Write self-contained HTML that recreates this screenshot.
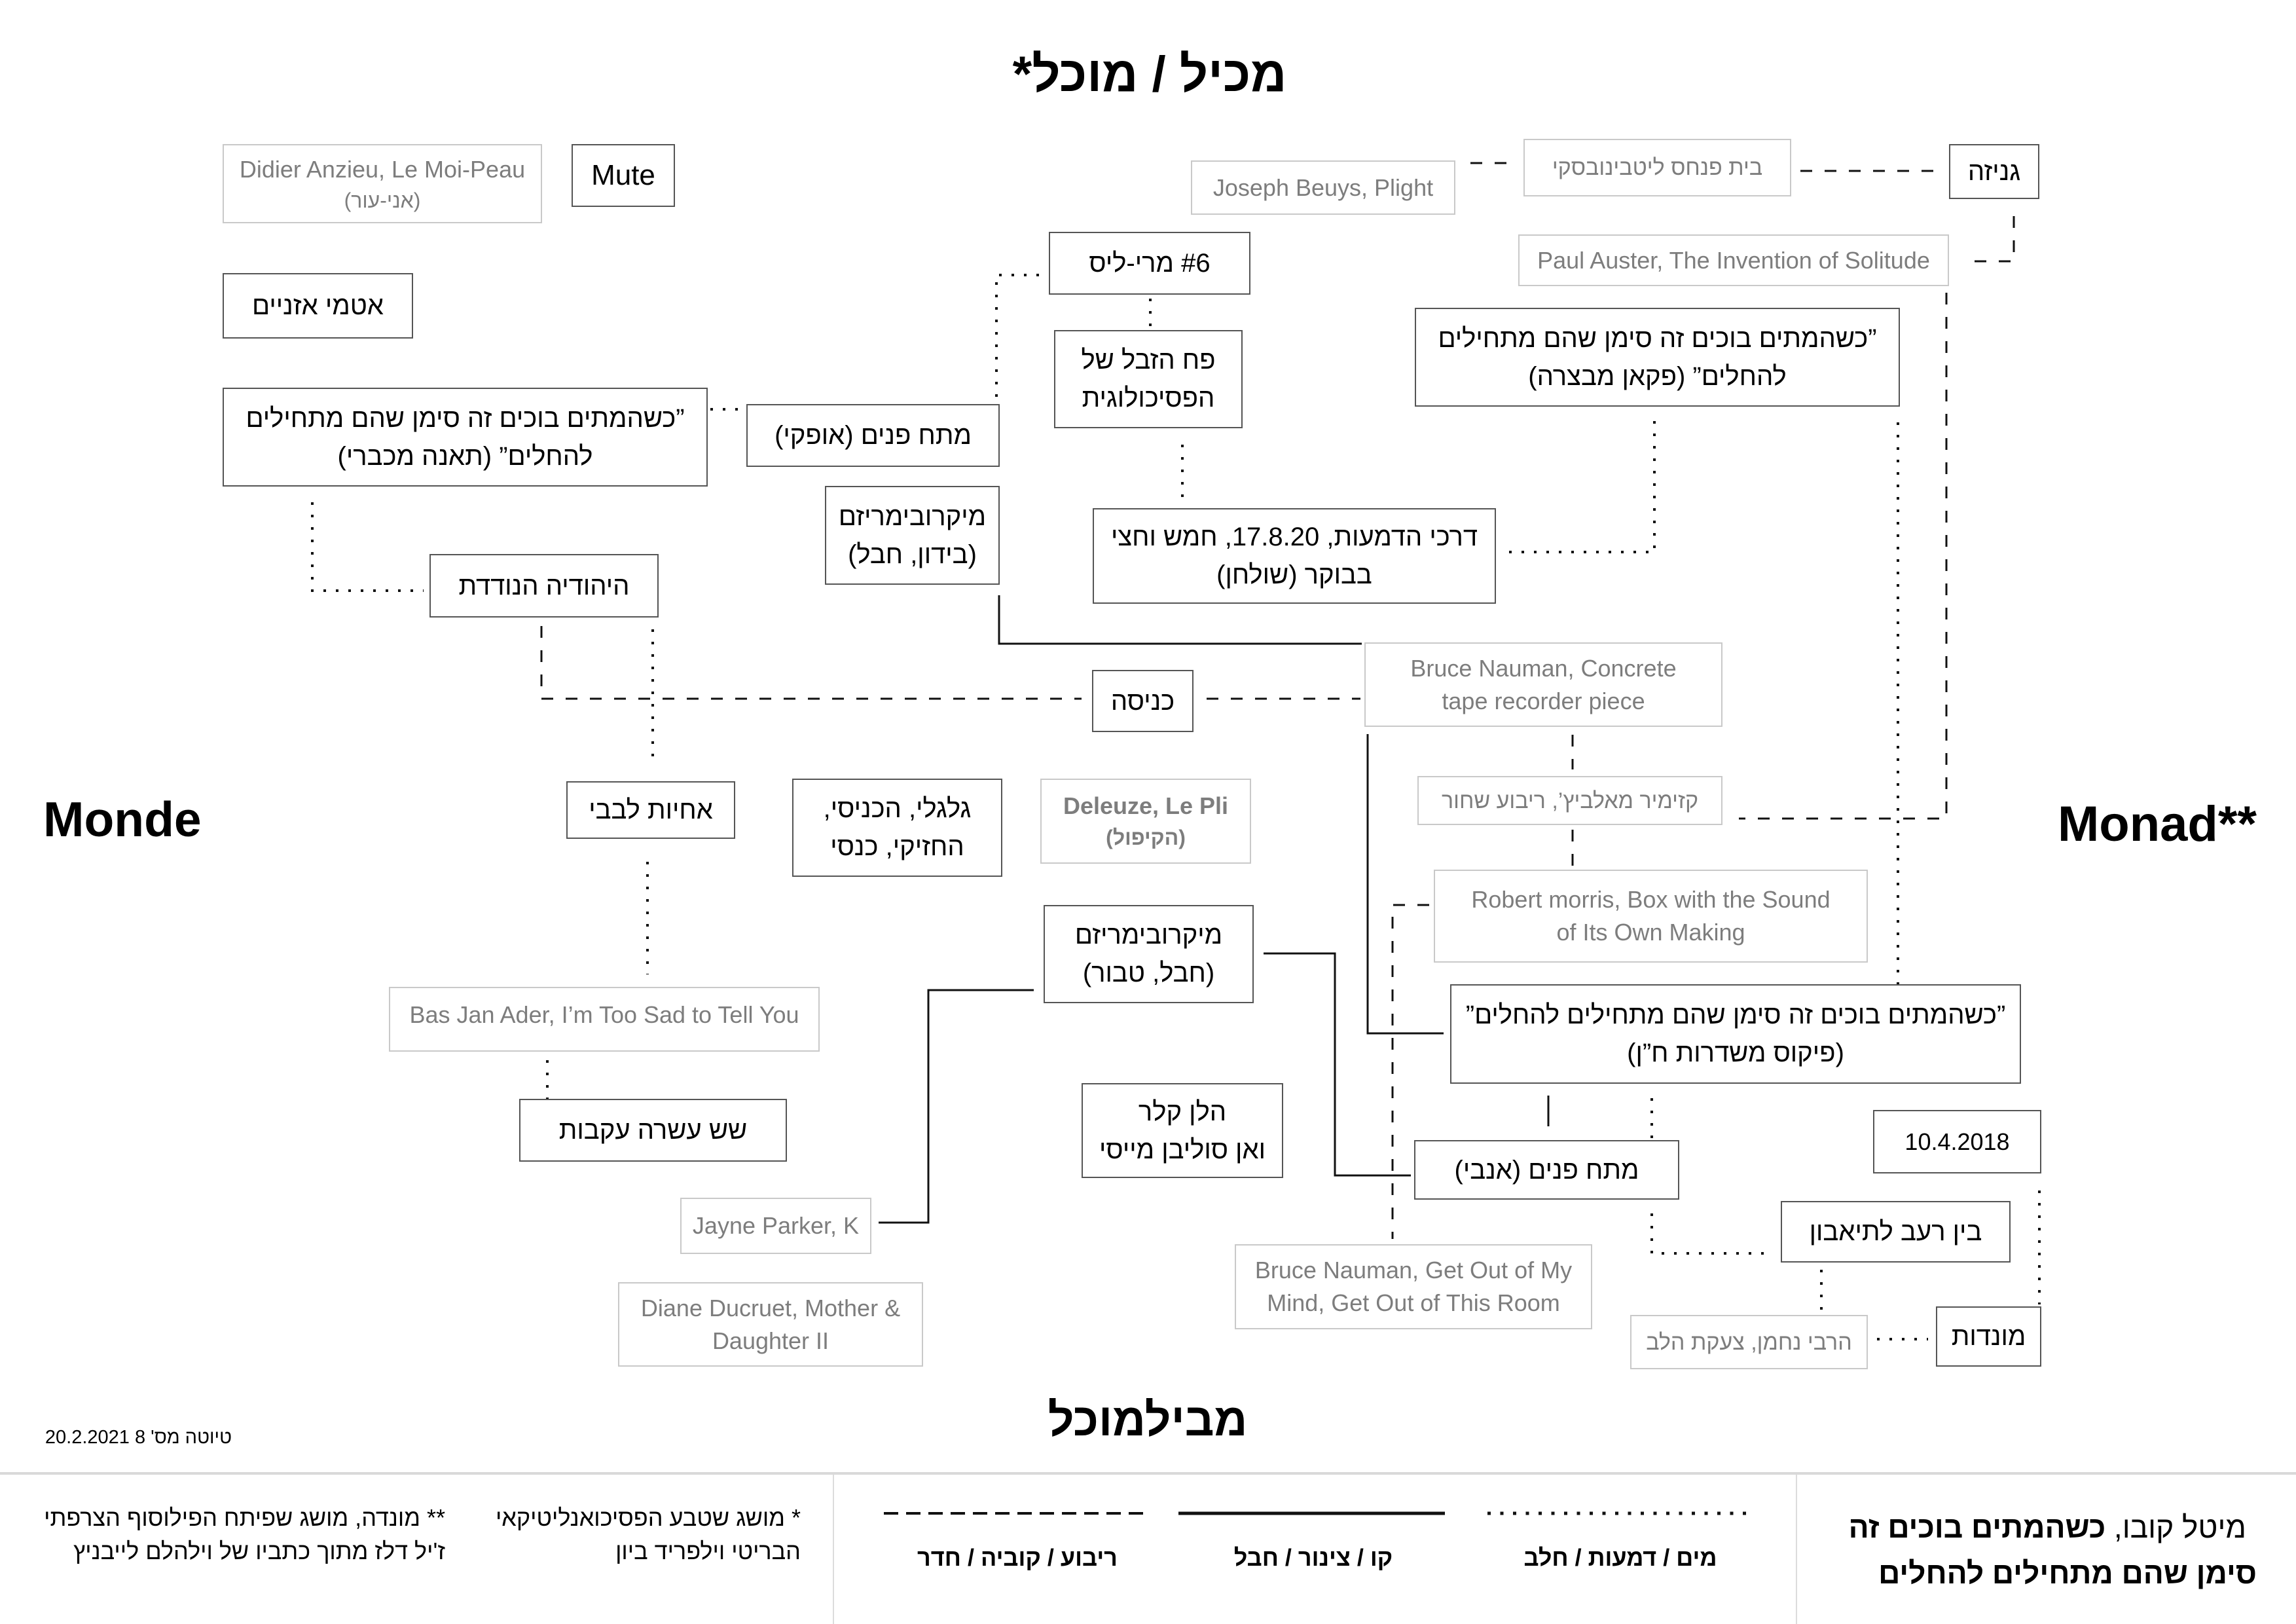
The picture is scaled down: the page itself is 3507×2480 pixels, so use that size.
<!DOCTYPE html>
<html lang="he">
<head>
<meta charset="utf-8">
<style>
  html,body{margin:0;padding:0;background:#fff;}
  body{width:3507px;height:2480px;position:relative;overflow:hidden;
       font-family:"Liberation Sans","DejaVu Sans",sans-serif;}
  .bx{position:absolute;box-sizing:border-box;display:flex;flex-direction:column;
      align-items:center;justify-content:center;text-align:center;white-space:nowrap;background:transparent;}
  .b{border:2px solid #555;color:#000;font-size:40px;line-height:58px;}
  .g{border:2px solid #c9c9c9;color:#7d7d7d;font-size:36px;line-height:50px;}
  .r{direction:rtl;}
  .l{direction:ltr;}
  .t{position:absolute;white-space:nowrap;}
  svg{position:absolute;left:0;top:0;}
  .d{stroke:#111;stroke-width:3;fill:none;stroke-dasharray:18 19;}
  .p{stroke:#111;stroke-width:4;fill:none;stroke-dasharray:4 15;}
  .s{stroke:#111;stroke-width:3;fill:none;}
</style>
</head>
<body>

<svg width="3507" height="2480" viewBox="0 0 3507 2480">
  <!-- dashed connectors -->
  <path class="d" d="M2246 249 H2302"/>
  <path class="d" d="M2750 261 H2955"/>
  <path class="d" d="M3076 330 V399 H3000"/>
  <path class="d" d="M2973 447 V1250 H2656"/>
  <path class="d" d="M827 956 V1067 H1652"/>
  <path class="d" d="M1843 1067 H2078"/>
  <path class="d" d="M2402 1122 V1175"/>
  <path class="d" d="M2402 1267 V1323"/>
  <path class="d" d="M2183 1382 H2127 V1892"/>
  <!-- dotted connectors -->
  <path class="p" d="M1085 625 H1130"/>
  <path class="p" d="M1522 606 V420 H1592"/>
  <path class="p" d="M1757 456 V500"/>
  <path class="p" d="M1806 679 V765"/>
  <path class="p" d="M477 767 V902 H647"/>
  <path class="p" d="M997 961 V1170"/>
  <path class="p" d="M989 1316 V1488"/>
  <path class="p" d="M836 1619 V1679"/>
  <path class="p" d="M2527 643 V843 H2299"/>
  <path class="p" d="M2899 645 V1503"/>
  <path class="p" d="M2523 1677 V1738"/>
  <path class="p" d="M2523 1853 V1914 H2700"/>
  <path class="p" d="M2782 1939 V2000"/>
  <path class="p" d="M3115 1818 V1992"/>
  <path class="p" d="M2867 2045 H2945"/>
  <!-- solid connectors -->
  <path class="s" d="M1526 909 V983 H2080"/>
  <path class="s" d="M2089 1121 V1578 H2205"/>
  <path class="s" d="M1930 1456 H2039 V1795 H2155"/>
  <path class="s" d="M1579 1512 H1418 V1867 H1342"/>
  <path class="s" d="M2365 1673 V1720"/>

  <!-- footer separators -->
  <line x1="0" y1="2250" x2="3507" y2="2250" stroke="#d9d9d9" stroke-width="4"/>
  <line x1="1273" y1="2252" x2="1273" y2="2480" stroke="#dcdcdc" stroke-width="2"/>
  <line x1="2744" y1="2252" x2="2744" y2="2480" stroke="#dcdcdc" stroke-width="2"/>

  <!-- legend lines -->
  <line x1="1350" y1="2311" x2="1757" y2="2311" stroke="#111" stroke-width="4" stroke-dasharray="22 12"/>
  <line x1="1800" y1="2311" x2="2207" y2="2311" stroke="#111" stroke-width="5"/>
  <line x1="2272" y1="2311" x2="2681" y2="2311" stroke="#111" stroke-width="5" stroke-dasharray="5 14.5"/>
</svg>

<!-- Titles -->
<div class="t r" style="left:1456px;top:69px;width:600px;text-align:center;font-size:76px;font-weight:bold;line-height:90px;">מכיל / מוכל*</div>
<div class="t r" style="left:1453px;top:2123px;width:600px;text-align:center;font-size:70px;font-weight:bold;line-height:90px;">מבילמוכל</div>
<div class="t l" style="left:66px;top:1206px;font-size:75px;font-weight:bold;line-height:90px;">Monde</div>
<div class="t l" style="left:3143px;top:1214px;font-size:76px;font-weight:bold;line-height:90px;">Monad**</div>

<!-- Boxes -->
<div class="bx g" style="left:340px;top:220px;width:488px;height:121px;">
  <div class="l">Didier Anzieu, Le Moi-Peau</div>
  <div class="r" style="font-size:32px;line-height:44px;">(אני-עור)</div>
</div>
<div class="bx b l" style="left:873px;top:220px;width:158px;height:96px;font-size:44px;">Mute</div>
<div class="bx g l" style="left:1819px;top:245px;width:404px;height:83px;">Joseph Beuys, Plight</div>
<div class="bx g r" style="left:2327px;top:212px;width:409px;height:88px;font-size:34px;">בית פנחס ליטבינובסקי</div>
<div class="bx b r" style="left:2977px;top:220px;width:138px;height:84px;">גניזה</div>
<div class="bx g l" style="left:2319px;top:358px;width:658px;height:79px;">Paul Auster, The Invention of Solitude</div>
<div class="bx b r" style="left:1602px;top:354px;width:308px;height:96px;">#6 מרי-ליס</div>
<div class="bx b r" style="left:340px;top:417px;width:291px;height:100px;">אטמי אזניים</div>
<div class="bx b r" style="left:1610px;top:504px;width:288px;height:150px;">
  <div>פח הזבל של</div><div>הפסיכולוגית</div>
</div>
<div class="bx b r" style="left:2161px;top:470px;width:741px;height:151px;">
  <div>”כשהמתים בוכים זה סימן שהם מתחילים</div><div>להחלים” (פקאן מבצרה)</div>
</div>
<div class="bx b r" style="left:340px;top:592px;width:741px;height:151px;">
  <div>”כשהמתים בוכים זה סימן שהם מתחילים</div><div>להחלים” (תאנה מכברי)</div>
</div>
<div class="bx b r" style="left:1140px;top:617px;width:387px;height:96px;">מתח פנים (אופקי)</div>
<div class="bx b r" style="left:1260px;top:742px;width:267px;height:151px;">
  <div>מיקרובימריזם</div><div>(בידון, חבל)</div>
</div>
<div class="bx b r" style="left:1669px;top:776px;width:616px;height:146px;">
  <div>דרכי הדמעות, 17.8.20, חמש וחצי</div><div>בבוקר (שולחן)</div>
</div>
<div class="bx b r" style="left:656px;top:846px;width:350px;height:97px;">היהודיה הנודדת</div>
<div class="bx g l" style="left:2084px;top:981px;width:547px;height:129px;">
  <div>Bruce Nauman, Concrete</div><div>tape recorder piece</div>
</div>
<div class="bx b r" style="left:1668px;top:1023px;width:155px;height:95px;">כניסה</div>
<div class="bx g r" style="left:2165px;top:1185px;width:466px;height:75px;font-size:34px;">קזימיר מאלביץ’, ריבוע שחור</div>
<div class="bx b r" style="left:865px;top:1193px;width:258px;height:88px;">אחיות לבבי</div>
<div class="bx b r" style="left:1210px;top:1189px;width:321px;height:150px;">
  <div>גלגלי, הכניסי,</div><div>החזיקי, כנסי</div>
</div>
<div class="bx g" style="left:1589px;top:1189px;width:322px;height:130px;font-weight:bold;">
  <div class="l">Deleuze, Le Pli</div>
  <div class="r" style="font-size:32px;line-height:46px;">(הקיפול)</div>
</div>
<div class="bx g l" style="left:2190px;top:1328px;width:663px;height:142px;">
  <div>Robert morris, Box with the Sound</div><div>of Its Own Making</div>
</div>
<div class="bx b r" style="left:1594px;top:1382px;width:321px;height:150px;">
  <div>מיקרובימריזם</div><div>(חבל, טבור)</div>
</div>
<div class="bx b r" style="left:2215px;top:1503px;width:872px;height:152px;">
  <div>”כשהמתים בוכים זה סימן שהם מתחילים להחלים”</div><div>(פיקוס משדרות ח”ן)</div>
</div>
<div class="bx g l" style="left:594px;top:1507px;width:658px;height:99px;padding-bottom:14px;">Bas Jan Ader, I’m Too Sad to Tell You</div>
<div class="bx b r" style="left:793px;top:1678px;width:409px;height:96px;">שש עשרה עקבות</div>
<div class="bx b r" style="left:1652px;top:1654px;width:308px;height:145px;">
  <div>הלן קלר</div><div>ואן סוליבן מייסי</div>
</div>
<div class="bx b l" style="left:2861px;top:1695px;width:257px;height:97px;font-size:36px;">10.4.2018</div>
<div class="bx b r" style="left:2160px;top:1741px;width:405px;height:91px;">מתח פנים (אנבי)</div>
<div class="bx b r" style="left:2720px;top:1834px;width:351px;height:94px;">בין רעב לתיאבון</div>
<div class="bx g l" style="left:1039px;top:1829px;width:292px;height:86px;">Jayne Parker, K</div>
<div class="bx g l" style="left:1886px;top:1900px;width:546px;height:130px;">
  <div>Bruce Nauman, Get Out of My</div><div>Mind, Get Out of This Room</div>
</div>
<div class="bx g r" style="left:2490px;top:2008px;width:363px;height:83px;font-size:34px;">הרבי נחמן, צעקת הלב</div>
<div class="bx b r" style="left:2957px;top:1995px;width:161px;height:92px;">מונדות</div>
<div class="bx g l" style="left:944px;top:1958px;width:466px;height:129px;">
  <div>Diane Ducruet, Mother &amp;</div><div>Daughter II</div>
</div>

<!-- Draft date -->
<div class="t r" style="left:40px;top:2177px;width:314px;text-align:right;font-size:29px;line-height:36px;">טיוטה מס' 8 20.2.2021</div>

<!-- Footnotes -->
<div class="t r" style="left:700px;top:2292px;width:523px;text-align:right;font-size:36px;line-height:51px;">
  <div>* מושג שטבע הפסיכואנליטיקאי</div>
  <div>הבריטי וילפריד ביון</div>
</div>
<div class="t r" style="left:40px;top:2292px;width:640px;text-align:right;font-size:36px;line-height:51px;">
  <div>** מונדה, מושג שפיתח הפילוסוף הצרפתי</div>
  <div>ז'יל דלז מתוך כתביו של וילהלם לייבניץ</div>
</div>

<!-- Legend labels -->
<div class="t r" style="left:1354px;top:2357px;width:400px;text-align:center;font-size:36px;font-weight:bold;line-height:44px;">ריבוע / קוביה / חדר</div>
<div class="t r" style="left:1806px;top:2357px;width:400px;text-align:center;font-size:36px;font-weight:bold;line-height:44px;">קו / צינור / חבל</div>
<div class="t r" style="left:2275px;top:2357px;width:400px;text-align:center;font-size:36px;font-weight:bold;line-height:44px;">מים / דמעות / חלב</div>

<!-- Bottom right title -->
<div class="t r" style="left:2760px;top:2297px;width:687px;text-align:right;font-size:46px;line-height:70px;">
  <div style="padding-right:16px;"><span>מיטל קובו, </span><b>כשהמתים בוכים זה</b></div>
  <div><b>סימן שהם מתחילים להחלים</b></div>
</div>

</body>
</html>
